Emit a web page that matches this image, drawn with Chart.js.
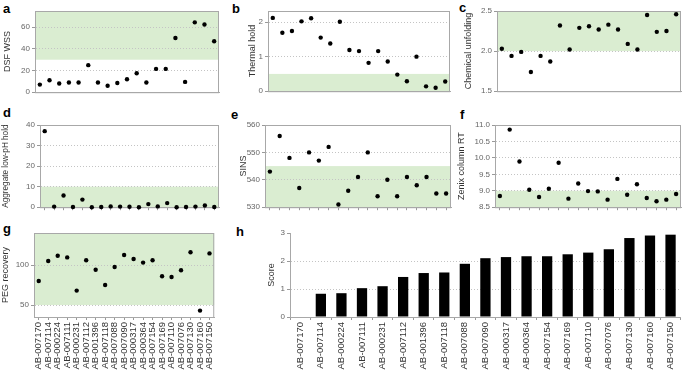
<!DOCTYPE html>
<html>
<head>
<meta charset="utf-8">
<script src="https://cdn.jsdelivr.net/npm/chart.js@4.4.0/dist/chart.umd.min.js"></script>
<style>
  body { margin: 0; background: #fff; width: 685px; height: 371px; position: relative; overflow: hidden; font-family: 'Liberation Sans', Arial, sans-serif; }
  canvas { position: absolute; }
  .tag { position: absolute; font-weight: bold; font-size: 13px; color: #000; line-height: 13px; }
</style>
</head>
<body>
<div class="tag" style="left:3px;top:2px">a</div>
<div class="tag" style="left:232px;top:2px">b</div>
<div class="tag" style="left:459px;top:1px">c</div>
<div class="tag" style="left:3px;top:106px">d</div>
<div class="tag" style="left:231px;top:108px">e</div>
<div class="tag" style="left:460px;top:108px">f</div>
<div class="tag" style="left:3px;top:222px">g</div>
<div class="tag" style="left:236px;top:225px">h</div>

<canvas id="pa" width="221" height="96" style="left:2px;top:3px"></canvas>
<canvas id="pb" width="207" height="95" style="left:247px;top:3px"></canvas>
<canvas id="pc" width="222" height="95" style="left:463px;top:3px"></canvas>
<canvas id="pd" width="222" height="97" style="left:1px;top:117px"></canvas>
<canvas id="pe" width="217" height="97" style="left:238px;top:117px"></canvas>
<canvas id="pf" width="229" height="97" style="left:456px;top:117px"></canvas>
<canvas id="pg" width="223" height="146" style="left:0px;top:225px"></canvas>
<canvas id="ph" width="418" height="146" style="left:266px;top:225px"></canvas>

<script>
// antibodies, in the order of the score ranking
const antibodies = ['AB-007170', 'AB-007114', 'AB-000224', 'AB-007111', 'AB-000231', 'AB-007112', 'AB-001396',
  'AB-007118', 'AB-007088', 'AB-007090', 'AB-000317', 'AB-000364', 'AB-007154', 'AB-007169', 'AB-007110',
  'AB-007076', 'AB-007130', 'AB-007160', 'AB-007150'];

const dsfWss = [7, 11, 8, 9, 9, 25, 9, 6, 8.5, 12, 17.5, 9, 21.5, 21.5, 50, 9.5, 64.5, 62.5, 47];
const thermalHold = [2.12, 1.69, 1.74, 2.02, 2.11, 1.55, 1.38, 2.01, 1.19, 1.16, 0.82, 1.16, 0.86, 0.48, 0.29, 1.0, 0.14, 0.1, 0.28];
const chemUnfolding = [2.03, 1.94, 1.99, 1.74, 1.94, 1.87, 2.32, 2.02, 2.29, 2.31, 2.27, 2.33, 2.27, 2.09, 2.02, 2.45, 2.24, 2.25, 2.46];
const aggLowPh = [37, 0.3, 5.7, 0.1, 3.7, 0, 0.1, 0.4, 0.3, 0.2, 0, 1.5, 0.4, 2.0, 0, 0.1, 0.3, 0.8, 0.1];
const sins = [543, 556, 548, 537, 550, 547, 552, 531, 536, 541, 550, 534, 540, 534, 541, 538, 541, 535, 535];
const zenixRt = [8.84, 10.86, 9.89, 9.03, 8.81, 9.06, 9.85, 8.76, 9.22, 8.99, 8.98, 8.73, 9.36, 8.88, 9.2, 8.78, 8.68, 8.73, 8.9];
const pegRecovery = [80, 105, 111.5, 109.5, 68, 106, 94, 75, 97.5, 112.5, 107.5, 103, 106, 86, 85, 93.5, 116, 43, 114.5];
const score = [0, 0.83, 0.85, 1.03, 1.1, 1.43, 1.57, 1.59, 1.9, 2.1, 2.14, 2.17, 2.17, 2.24, 2.3, 2.42, 2.82, 2.91, 2.94];

// acceptable ranges (green bands)
const bandDsf = [30, 75];
const bandThermal = [0, 0.5];
const bandChem = [2.0, 2.5];
const bandAgg = [0, 10];
const bandSins = [530, 545];
const bandZenix = [8.5, 9.0];
const bandPeg = [50, 140];

const FONT = "'Liberation Sans', Arial, sans-serif";

const frame = {
  id: 'frame',
  beforeDraw(chart, args, o) {
    if (!o.band) return;
    const { ctx, chartArea: a, scales: { y } } = chart;
    const top = Math.max(a.top, y.getPixelForValue(o.band[1]));
    const bot = Math.min(a.bottom, y.getPixelForValue(o.band[0]));
    ctx.save();
    ctx.fillStyle = '#daedd1';
    ctx.fillRect(a.left, top, a.right - a.left, bot - top);
    ctx.restore();
  },
  beforeDatasetsDraw(chart, args, o) {
    if (!o.box) return;
    const { ctx, chartArea: a } = chart;
    ctx.save();
    ctx.strokeStyle = '#a8a8a8';
    ctx.lineWidth = 1;
    ctx.strokeRect(a.left + 0.5, a.top + 0.5, a.right - a.left - 1, a.bottom - a.top);
    ctx.restore();
  }
};

function panel(id, p) {
  const isBar = p.type === 'bar';
  new Chart(document.getElementById(id), {
    type: p.type || 'line',
    data: {
      labels: antibodies,
      datasets: [{
        data: p.values,
        showLine: false,
        pointRadius: 2.2,
        pointBackgroundColor: '#000',
        pointBorderWidth: 0,
        backgroundColor: '#000',
        barPercentage: 0.5,
        categoryPercentage: 1,
        clip: false
      }]
    },
    options: {
      responsive: false,
      animation: false,
      devicePixelRatio: 1,
      layout: { padding: { top: 8, right: 2, left: 0, bottom: 0 } },
      plugins: {
        legend: { display: false },
        tooltip: { enabled: false },
        frame: { band: p.band, box: !isBar }
      },
      scales: {
        x: {
          type: 'category',
          offset: true,
          grid: {
            offset: isBar,
            drawOnChartArea: false,
            drawTicks: !!p.xTicks,
            tickLength: 3,
            tickColor: '#999'
          },
          border: { color: '#a8a8a8' },
          ticks: {
            display: !!p.xLabels,
            autoSkip: false,
            minRotation: 90,
            maxRotation: 90,
            padding: 2,
            color: '#333',
            font: { size: 9.5, family: FONT }
          },
          afterFit: s => { s.height = p.xH; }
        },
        y: {
          min: p.min,
          max: p.max,
          grid: {
            color: c => (c.tick && (c.tick.value === p.min || c.tick.value === p.max)) ? 'rgba(0,0,0,0)' : '#c4c4c4',
            tickLength: 3,
            tickColor: '#999',
            tickBorderDash: []
          },
          border: { color: '#a8a8a8', dash: [1, 2] },
          ticks: {
            stepSize: p.step,
            includeBounds: false,
            padding: 2,
            color: '#666',
            font: { size: 8, family: FONT },
            callback: v => p.dec ? v.toFixed(p.dec) : v
          },
          title: {
            display: true,
            text: p.title,
            color: '#333',
            padding: 0,
            font: { size: p.titleSize || 9, family: FONT }
          },
          afterFit: s => { s.width = p.yW; }
        }
      }
    },
    plugins: [frame]
  });
}

panel('pa', { values: dsfWss, band: bandDsf, title: 'DSF WSS', min: 0, max: 75, step: 20, yW: 33, xH: 3 });
panel('pb', { values: thermalHold, band: bandThermal, title: 'Thermal hold', min: 0, max: 2.32, step: 1, yW: 21, xH: 3 });
panel('pc', { values: chemUnfolding, band: bandChem, title: 'Chemical unfolding', min: 1.5, max: 2.5, step: 0.5, dec: 1, yW: 34, xH: 3 });
panel('pd', { values: aggLowPh, band: bandAgg, title: 'Aggregate low-pH hold', titleSize: 8.2, min: 0, max: 40, step: 10, yW: 39, xH: 5, xTicks: true });
panel('pe', { values: sins, band: bandSins, title: 'SINS', min: 530, max: 560, step: 10, yW: 27, xH: 5, xTicks: true });
panel('pf', { values: zenixRt, band: bandZenix, title: 'Zenix column RT', min: 8.5, max: 11, step: 0.5, dec: 1, yW: 39, xH: 5, xTicks: true });
panel('pg', { values: pegRecovery, band: bandPeg, title: 'PEG recovery', min: 35, max: 140, step: 50, yW: 34, xH: 54, xTicks: true, xLabels: true });
panel('ph', { type: 'bar', values: score, title: 'Score', min: 0, max: 3, step: 1, yW: 24, xH: 54, xTicks: true, xLabels: true });
</script>
</body>
</html>
